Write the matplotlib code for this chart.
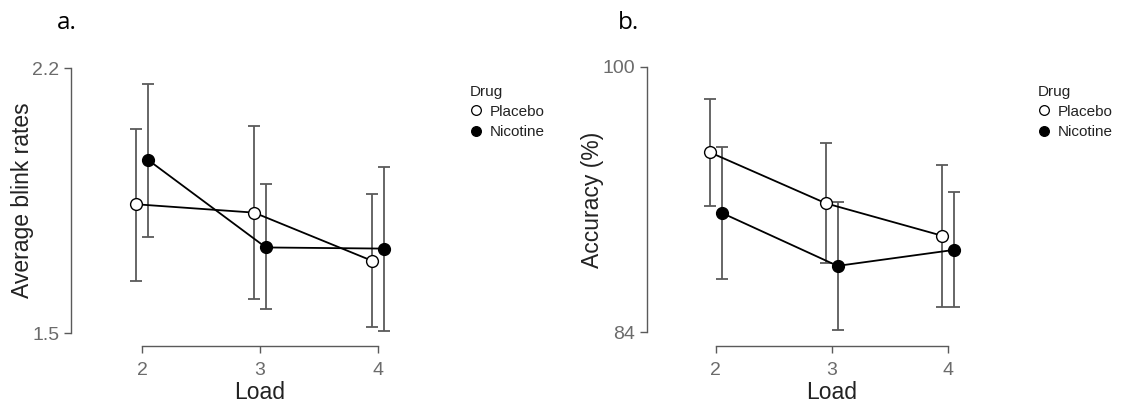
import matplotlib
matplotlib.use("Agg")
import matplotlib.pyplot as plt
from matplotlib.lines import Line2D

plt.rcParams['font.family'] = ['Liberation Sans', 'DejaVu Sans']

# ---- data ----
loads = [2, 3, 4]
groups = ["Placebo", "Nicotine"]

blink_placebo = [1.840, 1.818, 1.691]
blink_placebo_lo = [1.638, 1.589, 1.517]
blink_placebo_hi = [2.040, 2.047, 1.866]
blink_nicotine = [1.957, 1.726, 1.723]
blink_nicotine_lo = [1.754, 1.563, 1.506]
blink_nicotine_hi = [2.158, 1.893, 1.939]

acc_placebo = [94.84, 91.77, 89.82]
acc_placebo_lo = [91.63, 88.16, 85.54]
acc_placebo_hi = [98.03, 95.38, 94.08]
acc_nicotine = [91.20, 88.00, 88.96]
acc_nicotine_lo = [87.21, 84.14, 85.54]
acc_nicotine_hi = [95.18, 91.87, 92.43]

W, H = 1121, 403
fig = plt.figure(figsize=(W / 100, H / 100), dpi=100)

GRAY = "#5a5a5a"
TICKGRAY = "#6b6b6b"


def px_axes(left, top, right, bottom):
    return fig.add_axes([left / W, (H - bottom) / H, (right - left) / W, (bottom - top) / H])


def panel(ax, p, plo, phi, n, nlo, nhi, ylim, yticks, ylabel, xlim, ylab_x, xlab_x, legend_xy):
    dodge = 0.05
    xp = [x - dodge for x in loads]
    xn = [x + dodge for x in loads]
    for xs, m, lo, hi in [(xp, p, plo, phi), (xn, n, nlo, nhi)]:
        ax.errorbar(xs, m, yerr=[[a - b for a, b in zip(m, lo)], [c - a for a, c in zip(m, hi)]],
                    fmt="none", ecolor=GRAY, elinewidth=1.3, capsize=4, capthick=1.3, zorder=2)
    ax.plot(xp, p, color="black", lw=1.3, marker="o", ms=8.5, mfc="white", mec="black", mew=1.0, zorder=3)
    ax.plot(xn, n, color="black", lw=1.3, marker="o", ms=8.5, mfc="black", mec="black", mew=1.0, zorder=3)
    ax.set_xlim(*xlim)
    ax.set_ylim(*ylim)
    for s in ["top", "right"]:
        ax.spines[s].set_visible(False)
    ax.spines["left"].set_bounds(yticks[0], yticks[-1])
    ax.spines["bottom"].set_bounds(loads[0], loads[-1])
    for s in ["left", "bottom"]:
        ax.spines[s].set_color(GRAY)
        ax.spines[s].set_linewidth(1.0)
    ax.set_xticks(loads)
    ax.set_xticklabels([str(l) for l in loads])
    ax.set_yticks(yticks)
    ax.set_yticklabels([f"{t:g}" for t in yticks])
    ax.tick_params(axis="both", colors=GRAY, labelcolor=TICKGRAY, length=5, width=1.0, labelsize=14)
    ax.tick_params(axis="x", pad=7)
    ax.tick_params(axis="y", pad=3.5)
    ax.patch.set_visible(False)
    ax.set_ylabel(ylabel, fontsize=16.5, color="#222222")
    ax.yaxis.set_label_coords(ylab_x, 0.523)
    ax.set_xlabel("Load", fontsize=16.5, color="#222222")
    ax.xaxis.set_label_coords(xlab_x, -0.128)
    handles = [Line2D([], [], ls="none", marker="o", ms=7, mfc="white", mec="black", mew=0.9),
               Line2D([], [], ls="none", marker="o", ms=7, mfc="black", mec="black", mew=0.9)]
    leg = ax.legend(handles, groups, title="Drug", loc="upper left",
                    bbox_to_anchor=(legend_xy[0] / W, 1 - legend_xy[1] / H),
                    bbox_transform=fig.transFigure, frameon=False, fontsize=11,
                    title_fontsize=11, handlelength=0.8, handletextpad=0.5,
                    labelspacing=0.4, borderpad=0, alignment="left")
    for t in leg.get_texts():
        t.set_color("#222222")
    leg.get_title().set_color("#222222")


ax1 = px_axes(71, 68, 400, 345.7)
panel(ax1, blink_placebo, blink_placebo_lo, blink_placebo_hi,
      blink_nicotine, blink_nicotine_lo, blink_nicotine_hi,
      ylim=(2.2 - (345.7 - 68) / 378.6, 2.2), yticks=[1.5, 2.2], ylabel="Average blink rates",
      xlim=(1.394, 1.394 + 329 / 117.7), ylab_x=-0.112, xlab_x=0.574, legend_xy=(462, 77))

ax2 = px_axes(646.7, 66.7, 975.7, 345.7)
panel(ax2, acc_placebo, acc_placebo_lo, acc_placebo_hi,
      acc_nicotine, acc_nicotine_lo, acc_nicotine_hi,
      ylim=(100 - (345.7 - 66.7) / 16.6, 100), yticks=[84, 100], ylabel="Accuracy (%)",
      xlim=(1.405, 1.405 + 329 / 116), ylab_x=-0.13, xlab_x=0.562, legend_xy=(1030, 77))

fig.text(67 / W, 1 - 23 / H, "a.", fontsize=17.5, ha="center", va="center",
         family=["Open Sans", "DejaVu Sans"], color="black")
fig.text(628 / W, 1 - 23 / H, "b.", fontsize=17.5, ha="center", va="center",
         family=["Open Sans", "DejaVu Sans"], color="black")

fig.savefig("out.png", dpi=100)
